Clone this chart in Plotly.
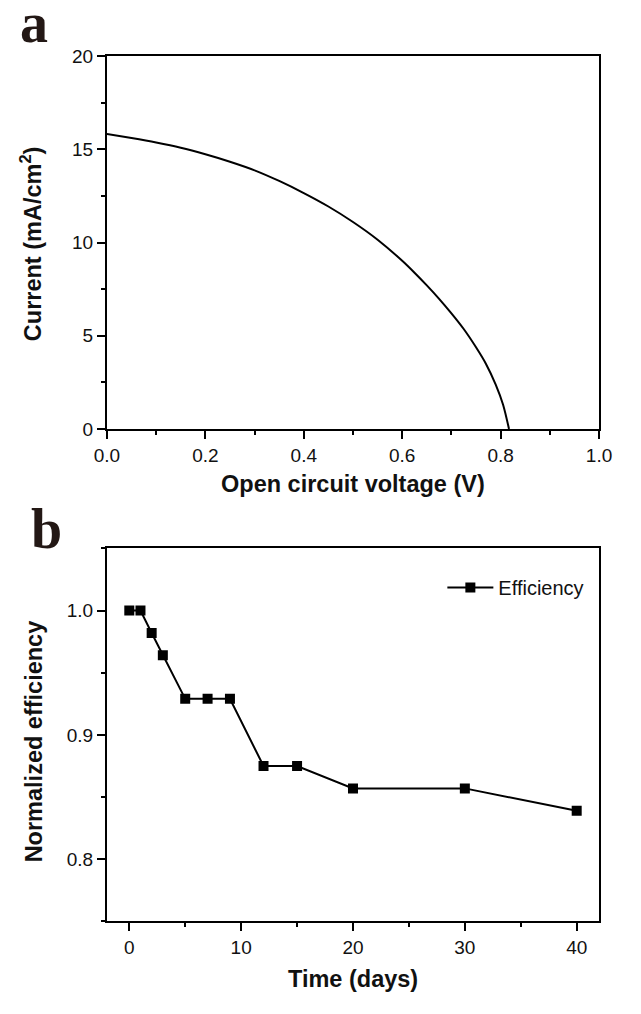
import plotly.graph_objects as go
from plotly.subplots import make_subplots

# J-V curve of the cell (panel a)
voltage = [0.0, 0.05, 0.10, 0.15, 0.20, 0.25, 0.30, 0.35, 0.40, 0.45, 0.50,
           0.55, 0.60, 0.625, 0.65, 0.675, 0.70, 0.725, 0.75, 0.77, 0.79, 0.805, 0.817]
current = [15.82, 15.60, 15.36, 15.08, 14.73, 14.33, 13.87, 13.30, 12.65, 11.93, 11.10,
           10.15, 9.02, 8.38, 7.70, 6.98, 6.20, 5.36, 4.38, 3.50, 2.38, 1.30, 0.0]

# Stability over time (panel b)
days = [0, 1, 2, 3, 5, 7, 9, 12, 15, 20, 30, 40]
efficiency = [1.000, 1.000, 0.982, 0.964, 0.929, 0.929, 0.929, 0.875, 0.875, 0.857, 0.857, 0.839]

# The page body keeps its default 8px margin, so the figure is sized to
# fill the window exactly; layout positions below are given in window pixels.
PAGE_W, PAGE_H, BODY = 641, 1014, 8
W, H = PAGE_W - 2 * BODY, PAGE_H - 2 * BODY
FONT = "Liberation Sans, Arial, sans-serif"
INK = "#111111"

fig = make_subplots(rows=2, cols=1)

fig.add_trace(go.Scatter(x=voltage, y=current, mode="lines",
                         line=dict(color="black", width=2, shape="spline", smoothing=0.8),
                         showlegend=False), row=1, col=1)
fig.add_trace(go.Scatter(x=days, y=efficiency, mode="lines+markers", name="Efficiency",
                         line=dict(color="black", width=2),
                         marker=dict(symbol="square", size=10, color="black"),
                         showlegend=True), row=2, col=1)


def px_x(v):
    return (v - BODY) / W


def px_y(v):
    return 1 - (v - BODY) / H


LEFT, RIGHT = 106, 619.5

axis_common = dict(showline=True, linecolor="black", linewidth=2, mirror=True,
                   ticks="outside", ticklen=8, tickwidth=2, tickcolor="black",
                   showgrid=False, zeroline=False,
                   tickfont=dict(family=FONT, size=19, color=INK))
minor_common = dict(ticks="outside", ticklen=4, tickwidth=2, tickcolor="black")

fig.update_layout(
    width=W, height=H,
    margin=dict(l=0, r=0, t=0, b=0),
    paper_bgcolor="white", plot_bgcolor="white",
    xaxis=dict(axis_common, domain=[px_x(LEFT), px_x(RIGHT)], range=[0, 1.0],
               dtick=0.2, tickformat=".1f", minor=dict(minor_common, dtick=0.1)),
    yaxis=dict(axis_common, domain=[px_y(436), px_y(55)], range=[0, 20],
               dtick=5, minor=dict(minor_common, dtick=2.5)),
    xaxis2=dict(axis_common, domain=[px_x(LEFT), px_x(RIGHT)], range=[-2, 42],
                dtick=10, minor=dict(minor_common, dtick=5)),
    yaxis2=dict(axis_common, domain=[px_y(939), px_y(558)], range=[0.75, 1.05],
                dtick=0.1, tick0=0.8, tickformat=".1f", minor=dict(minor_common, dtick=0.05)),
    legend=dict(x=px_x(456), y=px_y(598), xanchor="left", yanchor="middle",
                bgcolor="rgba(0,0,0,0)", itemwidth=46,
                font=dict(family=FONT, size=20, color=INK)),
)

title_font = dict(family=FONT, size=23.5, color=INK, weight="bold")
label_font = dict(family="Liberation Serif, Times New Roman, serif", size=56,
                  color="#231815", weight="bold")

annotations = [
    dict(text="Open circuit voltage (V)", x=px_x(363), y=px_y(492), font=title_font),
    dict(text="Current (mA/cm<sup>2</sup>)", x=px_x(27), y=px_y(247), font=title_font,
         textangle=-90),
    dict(text="Time (days)", x=px_x(363), y=px_y(998), font=title_font),
    dict(text="Normalized efficiency", x=px_x(30), y=px_y(755), font=title_font,
         textangle=-90),
    dict(text="a", x=px_x(30), y=px_y(21), font=label_font),
    dict(text="b", x=px_x(43), y=px_y(538), font=label_font),
]
for a in annotations:
    a.update(xref="paper", yref="paper", showarrow=False,
             xanchor="center", yanchor="middle")
fig.update_layout(annotations=annotations)

fig.write_html("out.html")
